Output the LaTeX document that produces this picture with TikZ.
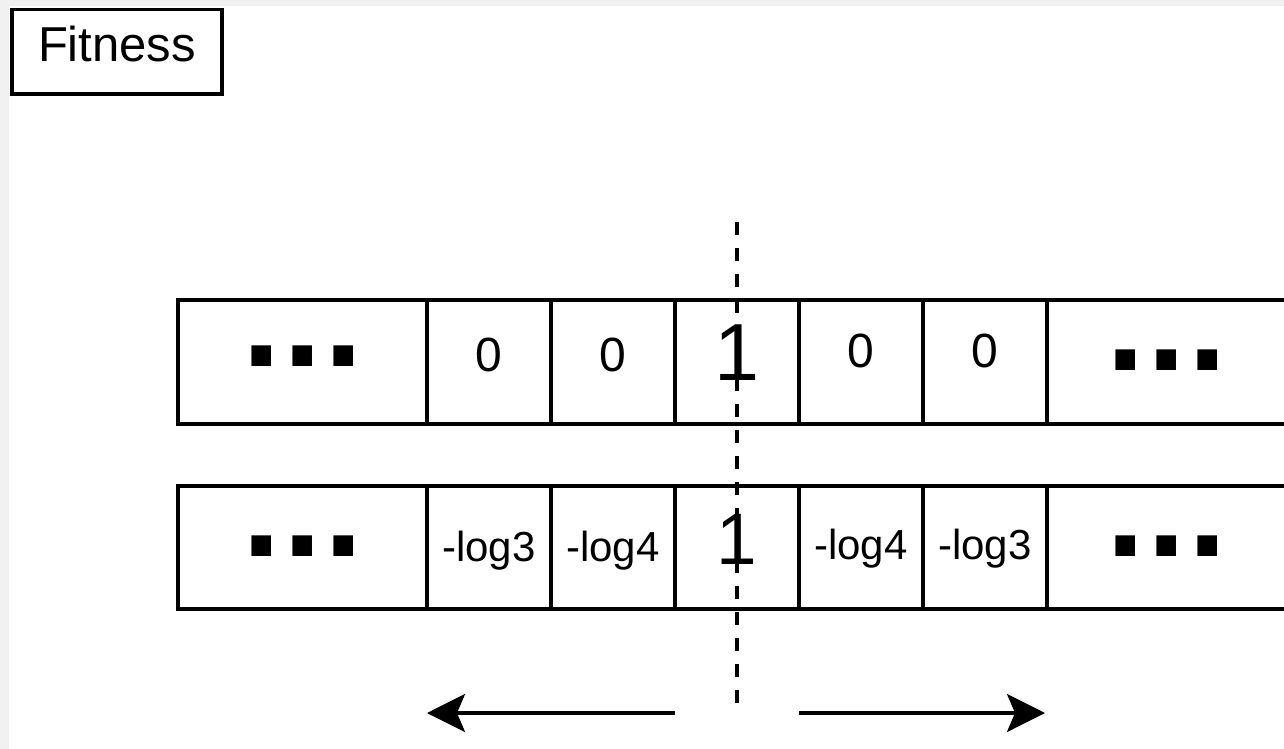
\documentclass[tikz,border=0pt]{standalone}
\usepackage{fontspec}
\setmainfont{Liberation Sans}
\usetikzlibrary{arrows.meta}
\definecolor{edgegray}{HTML}{F1F1F1}
\begin{document}
\begin{tikzpicture}[x=0.75pt,y=-0.75pt,
  cellbox/.style={draw=black, line width=2.5pt, inner sep=0pt, outer sep=0pt, anchor=north west},
  wide/.style={minimum width=186.75pt},
  narrow/.style={minimum width=93pt},
  tail/.style={minimum width=180pt},
  rowone/.style={minimum height=93pt},
  rowtwo/.style={minimum height=92.25pt},
  digit/.style={anchor=base, inner sep=0pt, font=\fontsize{36pt}{40pt}\selectfont},
  logtxt/.style={anchor=base, inner sep=0pt, font=\fontsize{31.5pt}{34pt}\selectfont},
  bigone/.style={anchor=base, inner sep=0pt},
  dots/.style={anchor=base, inner sep=0pt, font=\bfseries\fontsize{104pt}{110pt}\selectfont},
  arrowline/.style={line width=2.5pt, -{Stealth[length=28.5pt, width=28.5pt, inset=6pt]}},
  guide/.style={line width=2.5pt, dash pattern=on 9.5pt off 10pt},
]
\useasboundingbox (0,0) rectangle (1284,749);
\fill[edgegray] (0,0) rectangle (1284,749);
\fill[white] (8.7,5.7) rectangle (1284,749);

% title box
\node[draw=black, line width=2.5pt, inner sep=0pt, minimum width=157.5pt, minimum height=63.375pt,
      text height=26.25pt, text depth=10.875pt, font=\fontsize{36.75pt}{40pt}\selectfont]
      (fitness) at (117,51.75) {Fitness};

% upper row of cells
\node[cellbox, wide,   rowone] (r1a) at (178,300) {};
\node[cellbox, narrow, rowone] (r1b) at (427,300) {};
\node[cellbox, narrow, rowone] (r1c) at (551,300) {};
\node[cellbox, narrow, rowone] (r1d) at (675,300) {};
\node[cellbox, narrow, rowone] (r1e) at (799,300) {};
\node[cellbox, narrow, rowone] (r1f) at (923,300) {};
\node[cellbox, tail,   rowone] (r1g) at (1047,300) {};

% lower row of cells
\node[cellbox, wide,   rowtwo] (r2a) at (178,486) {};
\node[cellbox, narrow, rowtwo] (r2b) at (427,486) {};
\node[cellbox, narrow, rowtwo] (r2c) at (551,486) {};
\node[cellbox, narrow, rowtwo] (r2d) at (675,486) {};
\node[cellbox, narrow, rowtwo] (r2e) at (799,486) {};
\node[cellbox, narrow, rowtwo] (r2f) at (923,486) {};
\node[cellbox, tail,   rowtwo] (r2g) at (1047,486) {};

% upper row contents
\node[dots]  (t1a) at (302.5,366) {.\kern2pt.\kern2pt.};
\node[digit] (t1b) at (489,371.5) {0};
\node[digit] (t1c) at (613,371.5) {0};
\node[bigone, font=\fontsize{60.75pt}{64pt}\selectfont] (t1d) at (737,380) {1};
\node[digit] (t1e) at (861,367) {0};
\node[digit] (t1f) at (985,367) {0};
\node[dots]  (t1g) at (1166.5,370) {.\kern2pt.\kern2pt.};

% lower row contents
\node[dots]   (t2a) at (302.5,556) {.\kern2pt.\kern2pt.};
\node[logtxt] (t2b) at (489,561) {-log3};
\node[logtxt] (t2c) at (613,561) {-log4};
\node[bigone, font=\fontsize{54.75pt}{58pt}\selectfont] (t2d) at (737,564) {1};
\node[logtxt] (t2e) at (861,559) {-log4};
\node[logtxt] (t2f) at (985,559) {-log3};
\node[dots]   (t2g) at (1166.5,556) {.\kern2pt.\kern2pt.};

% symmetry axis
\coordinate (axtop) at (737,222);
\coordinate (axbot) at (737,705);
\draw[guide] (axtop) -- (axbot);

% direction arrows
\coordinate (lstart) at (675,713);
\coordinate (lend)   at (427,713);
\coordinate (rstart) at (799,713);
\coordinate (rend)   at (1045,713);
\draw[arrowline] (lstart) -- (lend);
\draw[arrowline] (rstart) -- (rend);
\end{tikzpicture}
\end{document}
